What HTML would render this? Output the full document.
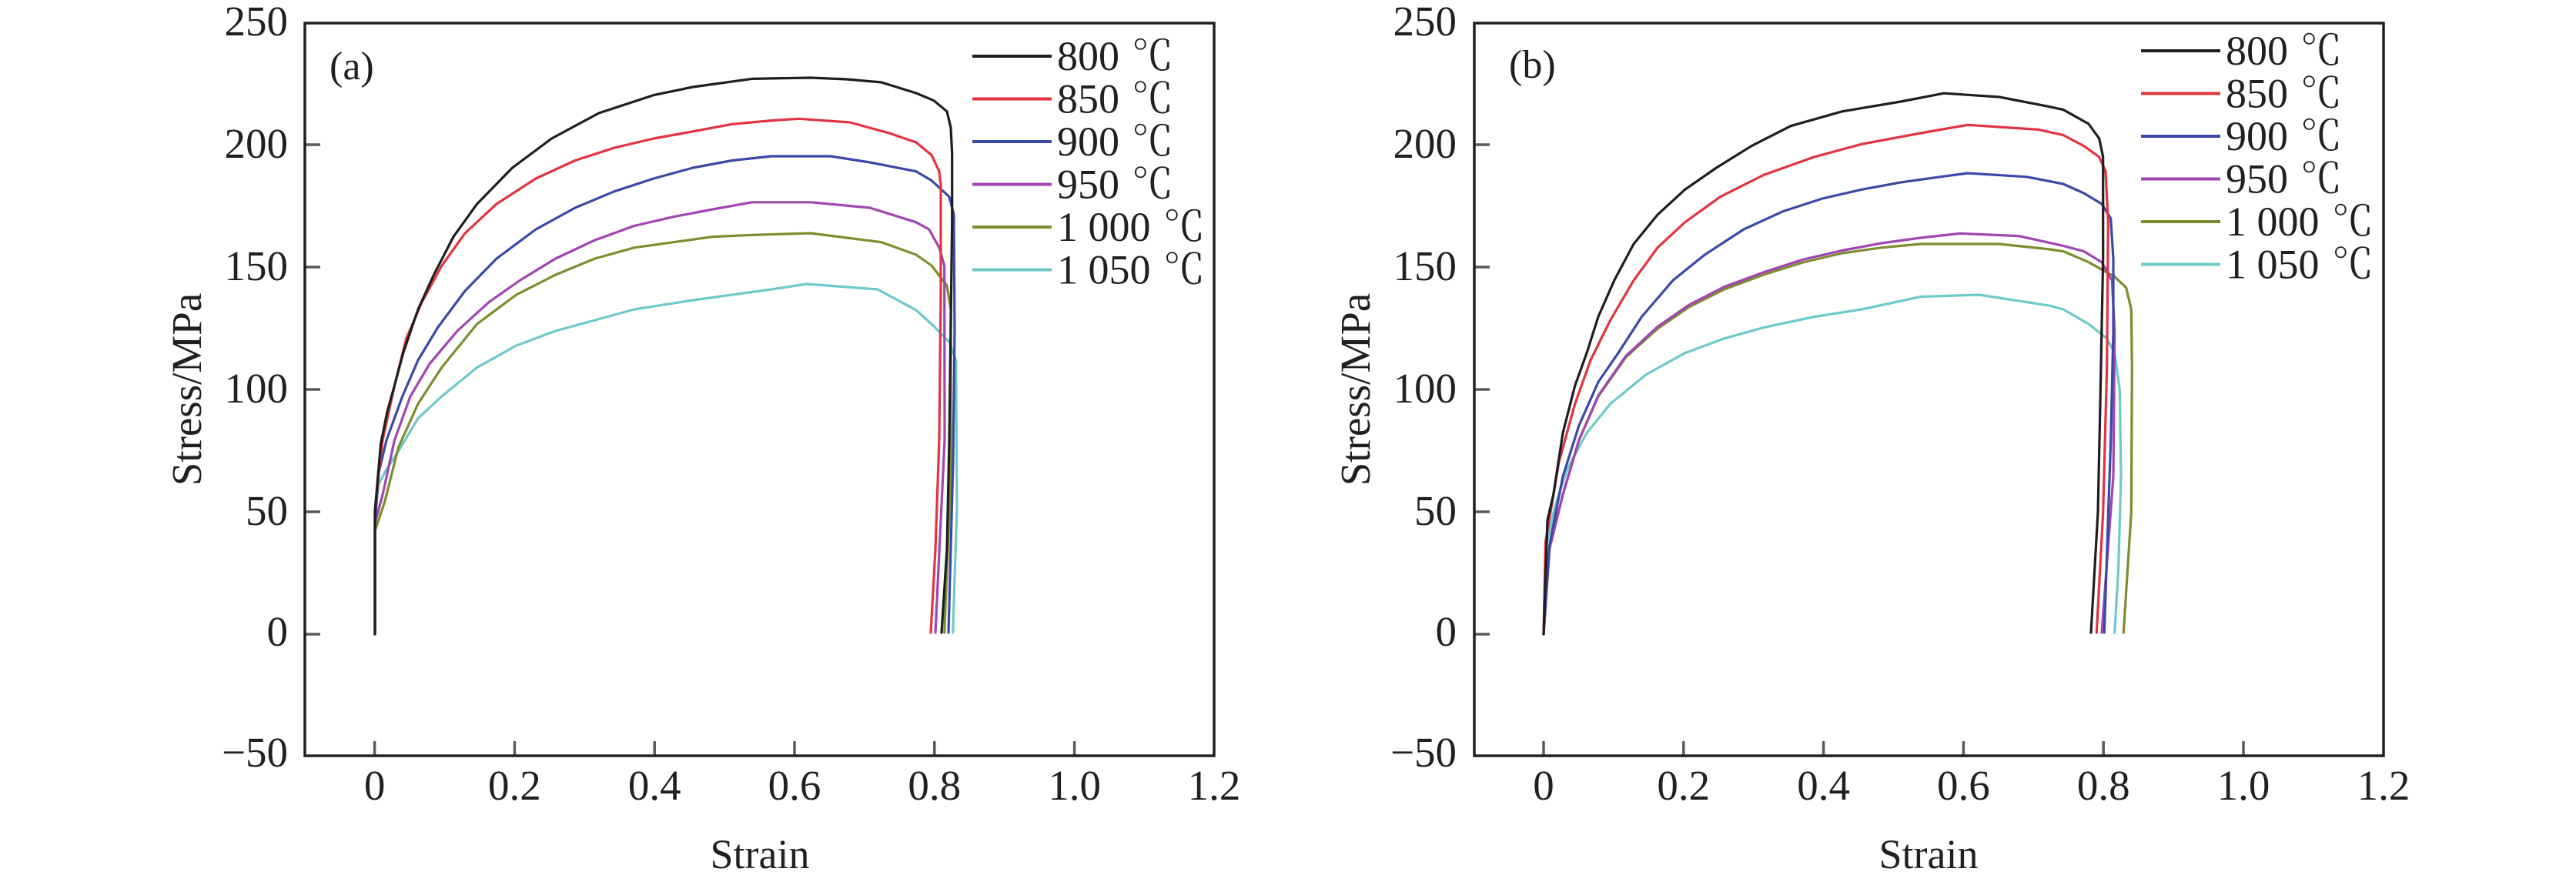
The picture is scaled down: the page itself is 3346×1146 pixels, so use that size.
<!DOCTYPE html>
<html>
<head>
<meta charset="utf-8">
<style>
html,body{margin:0;padding:0;background:#fff;}
svg{display:block;}
text{font-family:"Liberation Serif","Noto Serif CJK SC",serif;fill:#231f20;}
.deg{font-family:"Noto Serif CJK SC","Liberation Serif",serif;}
</style>
</head>
<body>
<svg width="3346" height="1146" viewBox="0 0 3346 1146" xmlns="http://www.w3.org/2000/svg">
<rect width="3346" height="1146" fill="#fff"/>

<!-- ================= PANEL A ================= -->
<g id="pa">
  <g stroke="#5a5a5a" stroke-width="3.5">
    <line x1="397" y1="188" x2="416" y2="188"/>
    <line x1="397" y1="347" x2="416" y2="347"/>
    <line x1="397" y1="506" x2="416" y2="506"/>
    <line x1="397" y1="665" x2="416" y2="665"/>
    <line x1="397" y1="824" x2="416" y2="824"/>
    <line x1="486.6" y1="981" x2="486.6" y2="963"/>
    <line x1="668.4" y1="981" x2="668.4" y2="963"/>
    <line x1="850.2" y1="981" x2="850.2" y2="963"/>
    <line x1="1032" y1="981" x2="1032" y2="963"/>
    <line x1="1213.8" y1="981" x2="1213.8" y2="963"/>
    <line x1="1395.6" y1="981" x2="1395.6" y2="963"/>
  </g>
  <rect x="396" y="30" width="1181" height="952" fill="none" stroke="#231f20" stroke-width="3.5"/>

  <g font-size="55" text-anchor="end">
    <text x="374" y="46">250</text>
    <text x="374" y="205">200</text>
    <text x="374" y="364">150</text>
    <text x="374" y="523">100</text>
    <text x="374" y="682">50</text>
    <text x="374" y="839">0</text>
    <text x="374" y="996">−50</text>
  </g>
  <g font-size="55" text-anchor="middle">
    <text x="486.6" y="1039">0</text>
    <text x="668.4" y="1039">0.2</text>
    <text x="850.2" y="1039">0.4</text>
    <text x="1032" y="1039">0.6</text>
    <text x="1213.8" y="1039">0.8</text>
    <text x="1395.6" y="1039">1.0</text>
    <text x="1577" y="1039">1.2</text>
  </g>
  <text x="987" y="1128" font-size="54" text-anchor="middle">Strain</text>
  <text transform="translate(261,506) rotate(-90)" font-size="55" text-anchor="middle">Stress/MPa</text>
  <text x="428" y="103" font-size="52">(a)</text>

  <g fill="none" stroke-width="3.2" stroke-linejoin="round" stroke-linecap="round">
    <polyline stroke="#6fc9c9" points="487,824 487,666 492,628.5 502,609.7 517.6,586 543,543.6 573.7,515 619.6,477.5 670.6,449 721.6,430 772.7,416 823.7,402 900,390 951,383 1002,376 1048,369 1140,376 1190,403 1210,421 1233,444.5 1241.7,468 1243,660 1237.7,822"/>
    <polyline stroke="#7f8c2e" points="487,824 487,690 499.7,652 517.6,581 543,524.7 573.7,477.5 619.6,421 670.6,383 721.6,357 772.7,336 823.7,321.8 874.7,314.7 925.7,307.6 976.7,305.3 1053,303 1145,314.7 1190,331 1210,345 1230,371 1235,402 1235,620 1226.7,822"/>
    <polyline stroke="#a045b2" points="487,824 487,680 497,642.7 512.4,572 533,515 558,472.8 594,430 635,392.6 675.7,364 721.6,336 772.7,312 823.7,293.5 874.7,281.7 925.7,272 976.7,262.8 1053,262.8 1130,270 1190,288.8 1206.7,298 1220,321.8 1226.7,345.4 1227,572 1215,822"/>
    <polyline stroke="#3b49a6" points="487,824 487,680 492,614 502,572 522.7,515 543,468 568.6,425.6 604,378 645,336 696,298 747,270 798,248.7 849,232 900,218 951,208.5 1002,203 1079,203 1130,211 1190,222.7 1210,234.5 1233,255.7 1239,279 1240,430 1238,600 1232,822"/>
    <polyline stroke="#e23340" points="487,824 487,664 492,614 497,572 512.4,501 527.8,439.8 548,392.6 573.7,345.4 604,303 645,265 696,232 747,208.5 798,192 849,180 900,170.8 951,161.3 1002,156.6 1038,154.3 1104,159 1155,173 1190,185 1210,201.5 1220,222.7 1222,240 1222,380 1220,570 1215,714 1209,822"/>
    <polyline stroke="#1e1e1e" points="487,824 487,664 494.6,576.6 503,535 512.4,501 523.7,458.7 543,402 563.5,357 589,307.6 619.6,265 665.5,218 716.5,180 777.8,147 849,123.6 900,113 976.7,102.4 1053,101 1100,103 1145,107 1190,121 1213,130.7 1230,144.8 1235,166 1236.7,200 1236.7,288.8 1233,572 1230,713.5 1223,822"/>
  </g>

  <g stroke-width="4">
    <line x1="1263" y1="73" x2="1366" y2="73" stroke="#1e1e1e"/>
    <line x1="1263" y1="128.5" x2="1366" y2="128.5" stroke="#e23340"/>
    <line x1="1263" y1="184" x2="1366" y2="184" stroke="#3b49a6"/>
    <line x1="1263" y1="239.5" x2="1366" y2="239.5" stroke="#a045b2"/>
    <line x1="1263" y1="295" x2="1366" y2="295" stroke="#7f8c2e"/>
    <line x1="1263" y1="350.5" x2="1366" y2="350.5" stroke="#6fc9c9"/>
  </g>
  <g font-size="54">
    <text x="1373" y="91">800<tspan class="deg" x="1470">℃</tspan></text>
    <text x="1373" y="146.5">850<tspan class="deg" x="1470">℃</tspan></text>
    <text x="1373" y="202">900<tspan class="deg" x="1470">℃</tspan></text>
    <text x="1373" y="257.5">950<tspan class="deg" x="1470">℃</tspan></text>
    <text x="1373" y="313">1 000<tspan class="deg" x="1511">℃</tspan></text>
    <text x="1373" y="368.5">1 050<tspan class="deg" x="1511">℃</tspan></text>
  </g>
</g>

<!-- ================= PANEL B ================= -->
<g id="pb">
  <g stroke="#5a5a5a" stroke-width="3.5">
    <line x1="1916" y1="188" x2="1935" y2="188"/>
    <line x1="1916" y1="347" x2="1935" y2="347"/>
    <line x1="1916" y1="506" x2="1935" y2="506"/>
    <line x1="1916" y1="665" x2="1935" y2="665"/>
    <line x1="1916" y1="824" x2="1935" y2="824"/>
    <line x1="2005" y1="981" x2="2005" y2="963"/>
    <line x1="2186.8" y1="981" x2="2186.8" y2="963"/>
    <line x1="2368.6" y1="981" x2="2368.6" y2="963"/>
    <line x1="2550.4" y1="981" x2="2550.4" y2="963"/>
    <line x1="2732.2" y1="981" x2="2732.2" y2="963"/>
    <line x1="2914" y1="981" x2="2914" y2="963"/>
  </g>
  <rect x="1915" y="30" width="1181" height="952" fill="none" stroke="#231f20" stroke-width="3.5"/>

  <g font-size="55" text-anchor="end">
    <text x="1892" y="46">250</text>
    <text x="1892" y="205">200</text>
    <text x="1892" y="364">150</text>
    <text x="1892" y="523">100</text>
    <text x="1892" y="682">50</text>
    <text x="1892" y="839">0</text>
    <text x="1892" y="996">−50</text>
  </g>
  <g font-size="55" text-anchor="middle">
    <text x="2005" y="1039">0</text>
    <text x="2186.8" y="1039">0.2</text>
    <text x="2368.6" y="1039">0.4</text>
    <text x="2550.4" y="1039">0.6</text>
    <text x="2732.2" y="1039">0.8</text>
    <text x="2914" y="1039">1.0</text>
    <text x="3096" y="1039">1.2</text>
  </g>
  <text x="2505" y="1128" font-size="54" text-anchor="middle">Strain</text>
  <text transform="translate(1779,506) rotate(-90)" font-size="55" text-anchor="middle">Stress/MPa</text>
  <text x="1960" y="101" font-size="52">(b)</text>

  <g fill="none" stroke-width="3.2" stroke-linejoin="round" stroke-linecap="round">
    <polyline stroke="#6fc9c9" points="2005,824 2007.5,713.5 2020,657 2035.6,609.7 2061,562.5 2091.7,524.7 2137.6,487 2188.6,458.7 2239.6,439.8 2290.7,425.6 2357,411.5 2418,402 2494.7,385.5 2571,383 2663,397.3 2680,402 2713,421 2736.7,439.8 2746.7,458.7 2753.3,505.8 2755,619 2751.7,737 2746.7,822"/>
    <polyline stroke="#7f8c2e" points="2005,824 2012.6,713.5 2030,642.7 2050.9,572 2076,515 2112,464 2153,427 2193.7,399 2239.6,376 2290.7,357 2341.7,341 2392.7,329 2443.7,321.8 2494.7,317 2545.8,317 2596.8,317 2663,324 2680,326.5 2713,340.7 2746.7,359.6 2761.7,373.7 2768.3,402 2769.3,477.5 2768.3,666 2758.3,822"/>
    <polyline stroke="#a045b2" points="2005,824 2012.6,713.5 2030,642.7 2050.9,572 2076,514 2112,462.4 2153,424.6 2193.7,396.3 2239.6,372.7 2290.7,353.8 2341.7,337.3 2392.7,325.5 2443.7,316 2494.7,309 2545.8,303.3 2622,306.6 2680,319.4 2706.7,326.5 2730,340.7 2743.3,364.3 2746.7,430 2745,619 2730,822"/>
    <polyline stroke="#3b49a6" points="2005,824 2012.6,708.8 2030,619 2050.9,553 2076,496.4 2101.9,458.7 2132.5,411.5 2173,364.3 2214,331.2 2265,298 2316,274.6 2367,258 2418,246.3 2469,236.9 2520,229.8 2556,225 2632.5,229.8 2680,239 2706.7,251 2730,265 2741.7,284 2745,336 2745,430 2741.7,572 2733.3,822"/>
    <polyline stroke="#e23340" points="2005,824 2007.5,704 2025,600 2045.8,524.7 2066,468 2091.7,416 2122,364.3 2153,321.8 2188.6,288.8 2234.5,255.7 2290.7,227.4 2357,203.8 2418,187.3 2494.7,173 2556,162.3 2648,168.4 2680,175.5 2706.7,189.7 2726.7,204 2735,222.7 2738.3,288.8 2736.7,477.5 2731.7,666 2723.3,822"/>
    <polyline stroke="#1e1e1e" points="2005,824 2010,675.7 2017.7,642.7 2030,562.5 2045.8,501 2061,458.7 2076,411.5 2096.8,364.3 2122,317 2153,279 2188.6,246.3 2229.4,218 2275,189.7 2326,163.7 2392.7,144.8 2469,132 2525,121.2 2596.8,126 2658,137.8 2680,142.5 2713,161 2726.7,180 2731.7,204 2731.7,336 2728,525 2725,666 2716,822"/>
  </g>

  <g stroke-width="4">
    <line x1="2781" y1="66" x2="2884" y2="66" stroke="#1e1e1e"/>
    <line x1="2781" y1="121.5" x2="2884" y2="121.5" stroke="#e23340"/>
    <line x1="2781" y1="177" x2="2884" y2="177" stroke="#3b49a6"/>
    <line x1="2781" y1="232.5" x2="2884" y2="232.5" stroke="#a045b2"/>
    <line x1="2781" y1="288" x2="2884" y2="288" stroke="#7f8c2e"/>
    <line x1="2781" y1="343.5" x2="2884" y2="343.5" stroke="#6fc9c9"/>
  </g>
  <g font-size="54">
    <text x="2891" y="84">800<tspan class="deg" x="2988">℃</tspan></text>
    <text x="2891" y="139.5">850<tspan class="deg" x="2988">℃</tspan></text>
    <text x="2891" y="195">900<tspan class="deg" x="2988">℃</tspan></text>
    <text x="2891" y="250.5">950<tspan class="deg" x="2988">℃</tspan></text>
    <text x="2891" y="306">1 000<tspan class="deg" x="3029">℃</tspan></text>
    <text x="2891" y="361.5">1 050<tspan class="deg" x="3029">℃</tspan></text>
  </g>
</g>
</svg>
</body>
</html>
